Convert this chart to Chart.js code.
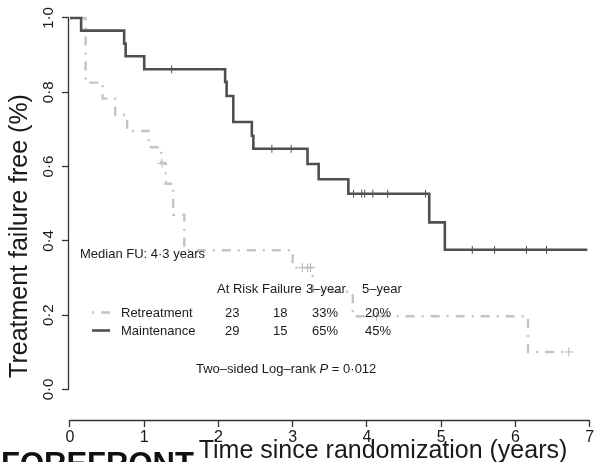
<!DOCTYPE html>
<html lang="en">
<head>
  <meta charset="UTF-8">
  <title>Treatment failure free survival</title>
  <script src="https://cdn.jsdelivr.net/npm/chart.js"></script>
  <style>
    html, body { margin: 0; padding: 0; background: #fff; overflow: hidden; }
    .wrap { width: 603px; height: 462px; }
  </style>
</head>
<body>
  <div class="wrap"><canvas id="km" width="603" height="462"></canvas></div>

  <script>
    // Kaplan-Meier steps: time of each drop (years) and the level after it
    const retreatTimes = [0, 0.21, 0.44, 0.61, 0.77, 1.06, 1.23, 1.29, 1.39, 1.54, 3.0, 3.27, 3.81, 6.17];
    const retreatSurv  = [1, 0.826, 0.783, 0.739, 0.696, 0.652, 0.609, 0.554, 0.47, 0.375, 0.328, 0.263, 0.197, 0.101];
    const retreatEnd = 6.72;
    const retreatCensor = [1.24, 3.13, 3.2, 3.24, 4.13, 6.72];

    const maintTimes = [0, 0.15, 0.73, 0.75, 1.0, 2.09, 2.11, 2.2, 2.45, 2.47, 3.2, 3.35, 3.75, 4.84, 5.05];
    const maintSurv  = [1, 0.966, 0.931, 0.897, 0.862, 0.828, 0.79, 0.72, 0.683, 0.648, 0.607, 0.566, 0.527, 0.45, 0.376];
    const maintEnd = 6.97;
    const maintCensor = [1.37, 2.72, 2.98, 3.82, 3.93, 3.97, 4.08, 4.28, 4.79, 5.42, 5.72, 6.15, 6.42];

    const xTicks = [0, 1, 2, 3, 4, 5, 6, 7];
    const yTicks = [0, 0.2, 0.4, 0.6, 0.8, 1.0];
    const yTickLabels = ['0·0', '0·2', '0·4', '0·6', '0·8', '1·0'];

    // summary table drawn under the curves
    const groups = ['Retreatment', 'Maintenance'];
    const atRisk = ['23', '29'];
    const failures = ['18', '15'];
    const year3 = ['33%', '65%'];
    const year5 = ['20%', '45%'];

    const FONT = '"Liberation Sans", Arial, Helvetica, sans-serif';
    const RETREAT_COLOR = '#c4c4c4';
    const MAINT_COLOR = '#4f4f4f';
    const RETREAT_DASH = [2, 7, 9, 7];

    function levelAt(times, surv, t) {
      let s = surv[0];
      for (let i = 0; i < times.length; i++) {
        if (times[i] <= t) s = surv[i];
      }
      return s;
    }

    function curvePoints(times, surv, end) {
      const pts = times.map((t, i) => ({ x: t, y: surv[i] }));
      pts.push({ x: end, y: surv[surv.length - 1] });
      return pts;
    }

    function censorPoints(times, surv, marks) {
      return marks.map(t => ({ x: t, y: levelAt(times, surv, t) }));
    }

    // R-style detached axis lines, only spanning the tick range
    const axisLines = {
      id: 'axisLines',
      beforeDatasetsDraw(chart) {
        const { ctx, chartArea, scales: { x, y } } = chart;
        ctx.save();
        ctx.strokeStyle = '#333';
        ctx.lineWidth = 1.3;
        ctx.beginPath();
        const yb = chartArea.bottom + 0.5;
        ctx.moveTo(x.getPixelForValue(xTicks[0]), yb);
        ctx.lineTo(x.getPixelForValue(xTicks[xTicks.length - 1]), yb);
        const xl = chartArea.left - 0.5;
        ctx.moveTo(xl, y.getPixelForValue(yTicks[0]));
        ctx.lineTo(xl, y.getPixelForValue(yTicks[yTicks.length - 1]));
        ctx.stroke();
        ctx.restore();
      }
    };

    // axis titles, legend table and footnote text
    const annotations = {
      id: 'annotations',
      afterDraw(chart) {
        const ctx = chart.ctx;
        ctx.save();
        ctx.fillStyle = '#1a1a1a';
        ctx.textBaseline = 'alphabetic';

        // axis titles
        ctx.font = '25px ' + FONT;
        ctx.textAlign = 'center';
        ctx.fillText('Time since randomization (years)', 383, 458);
        ctx.save();
        ctx.translate(27, 236);
        ctx.rotate(-Math.PI / 2);
        ctx.fillText('Treatment failure free (%)', 0, 0);
        ctx.restore();

        ctx.font = '13px ' + FONT;
        ctx.textAlign = 'left';
        ctx.fillText('Median FU: 4·3 years', 80, 258);

        // table header
        ctx.fillText('At Risk', 217, 293);
        ctx.fillText('Failure', 262, 293);
        ctx.fillText('3–year', 306, 293);
        ctx.fillText('5–year', 362, 293);

        const rowY = [317, 335];
        groups.forEach((g, i) => {
          ctx.fillText(g, 121, rowY[i]);
          ctx.fillText(atRisk[i], 225, rowY[i]);
          ctx.fillText(failures[i], 273, rowY[i]);
          ctx.fillText(year3[i], 312, rowY[i]);
          ctx.fillText(year5[i], 365, rowY[i]);
        });

        // legend swatches
        ctx.lineCap = 'butt';
        ctx.strokeStyle = RETREAT_COLOR;
        ctx.lineWidth = 2.4;
        ctx.setLineDash(RETREAT_DASH);
        ctx.beginPath();
        ctx.moveTo(92, 312.5);
        ctx.lineTo(111, 312.5);
        ctx.stroke();
        ctx.setLineDash([]);
        ctx.strokeStyle = MAINT_COLOR;
        ctx.lineWidth = 2.6;
        ctx.beginPath();
        ctx.moveTo(92, 330.5);
        ctx.lineTo(110, 330.5);
        ctx.stroke();

        // log-rank test
        let tx = 196;
        const ty = 373;
        ctx.font = '13px ' + FONT;
        const part1 = 'Two–sided Log–rank ';
        ctx.fillText(part1, tx, ty);
        tx += ctx.measureText(part1).width;
        ctx.font = 'italic 13px ' + FONT;
        ctx.fillText('P', tx, ty);
        tx += ctx.measureText('P').width;
        ctx.font = '13px ' + FONT;
        ctx.fillText(' = 0·012', tx, ty);

        // journal banner, cut off by the bottom edge
        ctx.font = 'bold 31px ' + FONT;
        ctx.fillStyle = '#111';
        ctx.fillText('FOREFRONT', 1, 474);
        ctx.restore();
      }
    };

    const ctx = document.getElementById('km').getContext('2d');

    new Chart(ctx, {
      type: 'scatter',
      data: {
        datasets: [
          {
            label: 'Maintenance',
            data: curvePoints(maintTimes, maintSurv, maintEnd),
            showLine: true,
            stepped: true,
            borderColor: MAINT_COLOR,
            borderWidth: 2.6,
            pointRadius: 0
          },
          {
            label: 'Maintenance censored',
            data: censorPoints(maintTimes, maintSurv, maintCensor),
            showLine: false,
            pointStyle: 'cross',
            pointRadius: 4,
            borderWidth: 1,
            borderColor: MAINT_COLOR,
            backgroundColor: MAINT_COLOR
          },
          {
            label: 'Retreatment',
            data: curvePoints(retreatTimes, retreatSurv, retreatEnd),
            showLine: true,
            stepped: true,
            borderColor: RETREAT_COLOR,
            borderWidth: 2.4,
            borderDash: RETREAT_DASH,
            borderCapStyle: 'butt',
            pointRadius: 0
          },
          {
            label: 'Retreatment censored',
            data: censorPoints(retreatTimes, retreatSurv, retreatCensor),
            showLine: false,
            pointStyle: 'cross',
            pointRadius: 4.5,
            borderWidth: 1,
            borderColor: '#b8b8b8',
            backgroundColor: '#b8b8b8'
          }
        ]
      },
      options: {
        responsive: false,
        devicePixelRatio: 1,
        animation: false,
        events: [],
        layout: { padding: { top: 8, left: 0, right: 0, bottom: 0 } },
        plugins: {
          legend: { display: false },
          tooltip: { enabled: false }
        },
        scales: {
          x: {
            type: 'linear',
            min: -1 / 75,
            max: 7 + 8 / 75,
            afterBuildTicks: s => { s.ticks = xTicks.map(v => ({ value: v })); },
            afterFit: s => { s.height = 42; s.paddingLeft = 0; s.paddingRight = 0; },
            border: { display: false },
            grid: { drawOnChartArea: false, drawTicks: true, tickLength: 7, tickWidth: 1.3, tickColor: '#333' },
            ticks: { font: { family: FONT, size: 16 }, color: '#1a1a1a', padding: 1, maxRotation: 0, autoSkip: false }
          },
          y: {
            type: 'linear',
            min: -30.5 / 371.5,
            max: 1 + 10 / 371.5,
            afterBuildTicks: s => { s.ticks = yTicks.map(v => ({ value: v })); },
            afterFit: s => { s.width = 69; s.paddingTop = 0; s.paddingBottom = 0; },
            border: { display: false },
            grid: { drawOnChartArea: false, drawTicks: true, tickLength: 7, tickWidth: 1.3, tickColor: '#333' },
            ticks: {
              font: { family: FONT, size: 15 },
              color: '#1a1a1a',
              padding: 2,
              minRotation: 90,
              maxRotation: 90,
              crossAlign: 'center',
              autoSkip: false,
              callback: (v, i) => yTickLabels[i]
            }
          }
        }
      },
      plugins: [axisLines, annotations]
    });
  </script>
</body>
</html>
